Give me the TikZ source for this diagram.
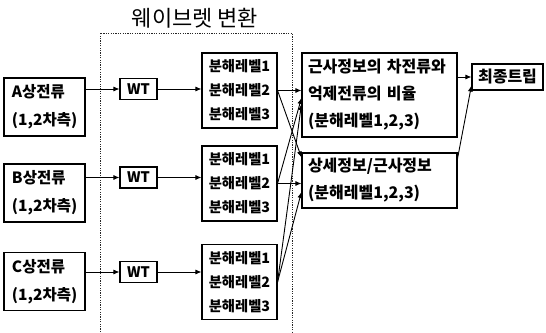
\documentclass[tikz,border=0pt]{standalone}
\usepackage{fontspec}
\setmainfont{Noto Sans CJK KR}
\usetikzlibrary{arrows.meta,calc}
\begin{document}
\begin{tikzpicture}[x=1pt,y=-1pt,
  box/.style={draw, line width=1.1pt, inner xsep=0pt, inner ysep=0pt},
  inbox/.style={box, minimum width=81pt, minimum height=58pt, text width=65pt, inner xsep=8pt, align=left,
    font=\fontsize{15.5}{28}\selectfont\bfseries},
  wtbox/.style={box, minimum width=37pt, minimum height=21pt, font=\fontsize{14.5}{16}\selectfont\bfseries},
  dbox/.style={box, minimum width=75pt, minimum height=75pt, align=center,
    font=\fontsize{14.3}{24}\selectfont\bfseries},
  rbox/.style={box, minimum width=155pt, text width=143pt, inner xsep=6pt, align=left,
    font=\fontsize{16}{27}\selectfont\bfseries},
  fbox/.style={box, minimum width=71pt, minimum height=26pt, font=\fontsize{16}{18}\selectfont\bfseries},
  arr/.style={-{Latex[length=6pt,width=5pt]}, line width=0.9pt},
  frame/.style={line width=0.8pt, dash pattern=on 1.2pt off 1.2pt, black!85}
]
\useasboundingbox (0,0) rectangle (546,332);

% title and dotted frame
\node[font=\fontsize{22}{24}\selectfont] (title) at (195,18) {웨이브렛 변환};
\draw[frame] (100,332) -- (100,33) -- (292,33) -- (292,332);

% input boxes
\node[inbox] (A) at (44.5,107) {A상전류\\(1,2차측)};
\node[inbox] (B) at (44.5,193) {B상전류\\(1,2차측)};
\node[inbox] (C) at (44.5,281.5) {C상전류\\(1,2차측)};

% WT boxes
\node[wtbox] (WA) at (138.5,89) {WT};
\node[wtbox] (WB) at (138.5,177.5) {WT};
\node[wtbox] (WC) at (138.5,272) {WT};

% decomposition boxes
\node[dbox] (DA) at (239.5,90.5) {분해레벨1\\분해레벨2\\분해레벨3};
\node[dbox] (DB) at (239.5,183.5) {분해레벨1\\분해레벨2\\분해레벨3};
\node[dbox] (DC) at (239.5,282) {분해레벨1\\분해레벨2\\분해레벨3};

% result boxes
\node[rbox, minimum height=84pt] (R1) at (379.5,95) {근사정보의 차전류와\\억제전류의 비율\\(분해레벨1,2,3)};
\node[rbox, minimum height=55pt] (R2) at (379.5,180.5) {상세정보/근사정보\\(분해레벨1,2,3)};
\node[fbox] (F) at (507.5,77) {최종트립};

% connectors
\draw[arr] (A.east |- WA.west) -- (WA.west);
\draw[arr] (B.east |- WB.west) -- (WB.west);
\draw[arr] (C.east |- WC.west) -- (WC.west);
\draw[arr] (WA.east) -- (WA.east -| DA.west);
\draw[arr] (WB.east) -- (WB.east -| DB.west);
\draw[arr] (WC.east) -- (WC.east -| DC.west);

\draw[arr] (DA.east) -- (DA.east -| R1.west);
\draw[arr] (DA.east) -- ([yshift=-5pt]R2.north west);
\draw[arr] (DB.east) -- (DB.east -| R2.west);
\draw[arr] (DB.east) -- ([yshift=-3pt]R1.west);
\draw[arr] (DC.east) -- ([yshift=-9pt]R1.west);
\draw[arr] (DC.east) -- ([yshift=-11.5pt]R2.west);

\draw[arr] (R1.east |- F.west) -- (F.west);
\draw[arr] ([yshift=-6pt]R2.north east) -- ([yshift=5pt]F.south west);
\end{tikzpicture}
\end{document}
